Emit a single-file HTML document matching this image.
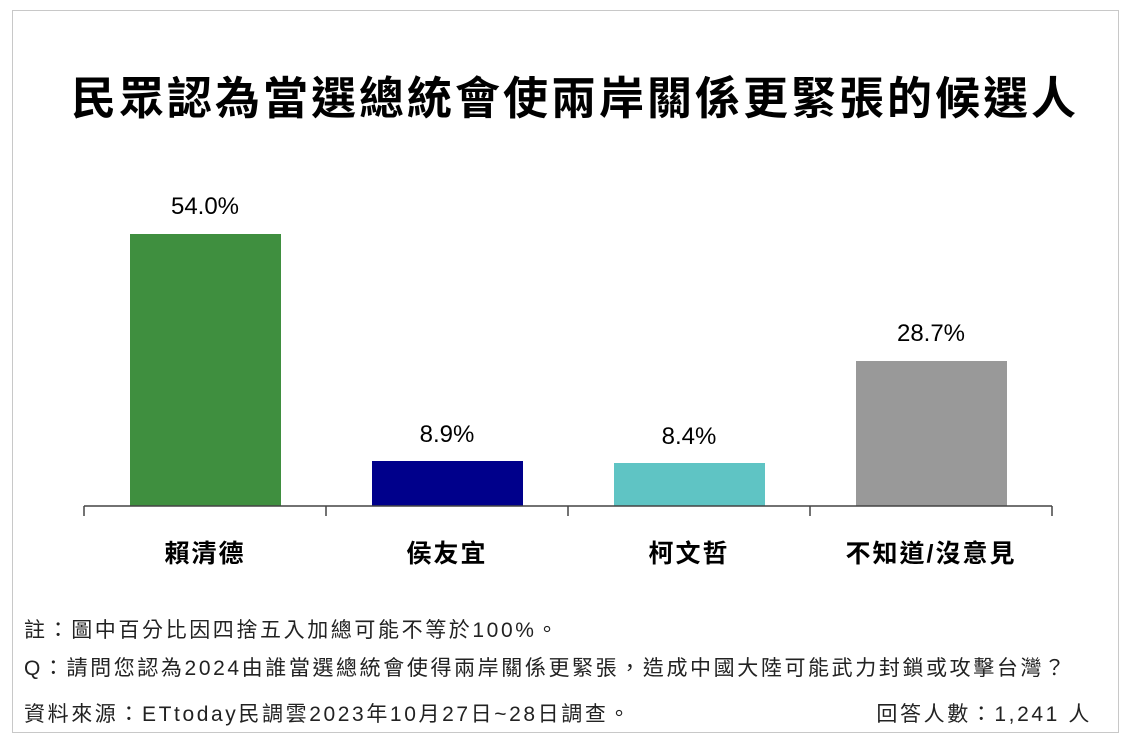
<!DOCTYPE html>
<html><head><meta charset="utf-8"><style>
body{margin:0;width:1138px;height:746px;background:#fff;position:relative;overflow:hidden;font-family:"Liberation Sans","Noto Sans CJK TC",sans-serif;}
.frame{position:absolute;left:12px;top:10px;width:1105px;height:721px;border:1px solid #c8c8c8;}
.t{position:absolute;white-space:nowrap;color:#000;}
.bar{position:absolute;}
.v{position:absolute;width:200px;text-align:center;font-size:24px;}
.c{position:absolute;width:240px;text-align:center;font-size:25px;font-weight:bold;letter-spacing:2px;}
.n{position:absolute;left:24px;font-size:21px;color:#222;white-space:nowrap;letter-spacing:2.6px;}
</style></head><body>
<div class="frame"></div>
<div class="t" style="left:0;width:1150px;text-align:center;top:62px;font-size:45px;font-weight:bold;letter-spacing:3px;">民眾認為當選總統會使兩岸關係更緊張的候選人</div>
<div class="bar" style="left:130px;top:234px;width:151px;height:272px;background:#3f8f3f"></div>
<div class="bar" style="left:372px;top:461px;width:151px;height:45px;background:#00008b"></div>
<div class="bar" style="left:614px;top:463px;width:151px;height:43px;background:#5fc4c4"></div>
<div class="bar" style="left:856px;top:361px;width:151px;height:145px;background:#999"></div>
<svg style="position:absolute;left:0;top:0" width="1138" height="746">
<g stroke="#444" stroke-width="1.5" fill="none">
<line x1="84" y1="506" x2="1052" y2="506"/>
<line x1="84" y1="506" x2="84" y2="516"/><line x1="326" y1="506" x2="326" y2="516"/>
<line x1="568" y1="506" x2="568" y2="516"/><line x1="810" y1="506" x2="810" y2="516"/>
<line x1="1052" y1="506" x2="1052" y2="516"/></g></svg>
<div class="v" style="left:105px;top:193px">54.0%</div>
<div class="v" style="left:347px;top:421px">8.9%</div>
<div class="v" style="left:589px;top:423px">8.4%</div>
<div class="v" style="left:831px;top:320px">28.7%</div>
<div class="c" style="left:85px;top:534px">賴清德</div>
<div class="c" style="left:327px;top:534px">侯友宜</div>
<div class="c" style="left:569px;top:534px">柯文哲</div>
<div class="c" style="left:811px;top:534px">不知道/沒意見</div>
<div class="n" style="top:614px">註：圖中百分比因四捨五入加總可能不等於100%。</div>
<div class="n" style="top:652px">Q：請問您認為2024由誰當選總統會使得兩岸關係更緊張，造成中國大陸可能武力封鎖或攻擊台灣？</div>
<div class="n" style="top:698px">資料來源：ETtoday民調雲2023年10月27日~28日調查。</div>
<div class="n" style="top:698px;left:auto;right:46px">回答人數：1,241 人</div>
</body></html>
